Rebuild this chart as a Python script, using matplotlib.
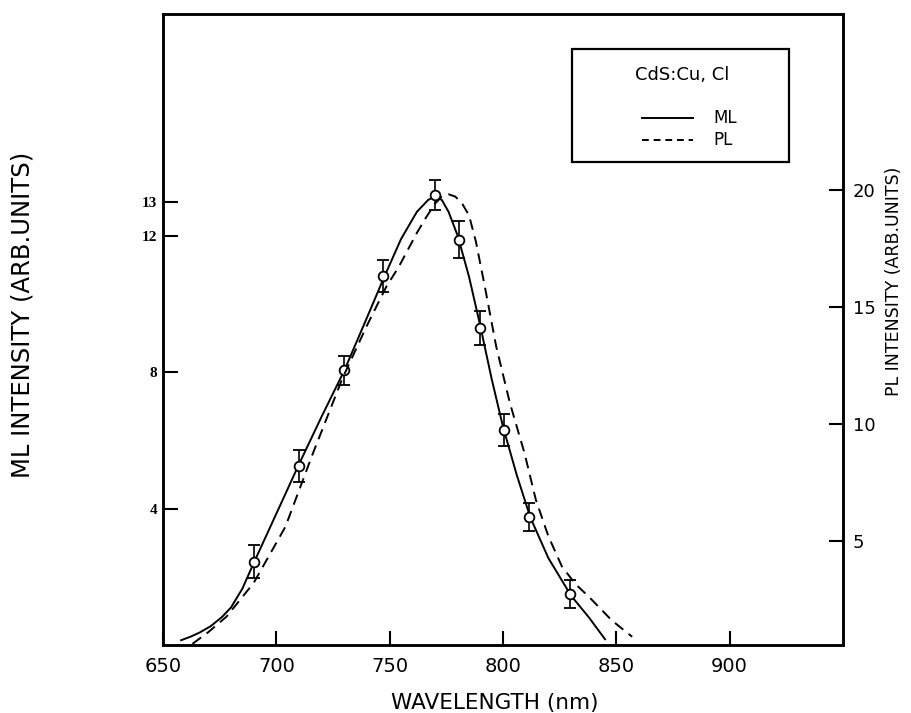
import matplotlib
matplotlib.use("Agg")
import matplotlib.pyplot as plt
from matplotlib.patches import Rectangle
from matplotlib.lines import Line2D

# ---------------- data ----------------
# ML measured points (left axis) with error bars
ml_pts_x = [690, 710, 730, 747, 770, 780.5, 790, 800.5, 811.5, 829.5]
ml_pts_y = [2.44, 5.26, 8.05, 10.82, 13.2, 11.88, 9.3, 6.29, 3.74, 1.5]
ml_pts_err = [0.48, 0.47, 0.42, 0.47, 0.44, 0.54, 0.5, 0.47, 0.41, 0.41]

# ML fitted curve (left axis, solid)
ml_curve_x = [658, 662, 666, 671, 676, 680, 685, 690, 700, 710, 720, 730, 740,
              747, 755, 762, 767, 770, 773, 776, 780, 785, 790, 795, 800, 806,
              812, 820, 830, 838, 845]
ml_curve_y = [0.14, 0.24, 0.36, 0.55, 0.82, 1.1, 1.65, 2.4, 3.85, 5.3, 6.7,
              8.05, 9.6, 10.7, 11.9, 12.7, 13.05, 13.15, 13.05, 12.7, 12.0,
              10.8, 9.35, 7.8, 6.4, 5.0, 3.75, 2.55, 1.45, 0.8, 0.17]

# PL curve (right axis, dashed)
pl_curve_x = [663, 670, 678, 690, 704, 716, 729, 740, 748.5, 754, 762, 766,
              770, 773, 776, 779, 782, 785, 788, 792, 797, 803, 809.5, 814.5,
              820, 826, 832, 838, 848, 857]
pl_curve_y = [0.6, 1.1, 1.76, 3.2, 5.6, 8.7, 11.9, 14.2, 15.85, 16.7, 18.15,
              18.8, 19.4, 19.7, 19.8, 19.7, 19.4, 18.9, 17.8, 15.85, 13.3, 10.9,
              8.74, 6.75, 5.2, 3.9, 3.15, 2.6, 1.6, 0.9]

x_ticks = [650, 700, 750, 800, 850, 900]
left_ticks = [4, 8, 12, 13]
right_ticks = [5, 10, 15, 20]

legend_title = "CdS:Cu, Cl"
series_names = ["ML", "PL"]

# ---------------- figure ----------------
W, H = 911, 713
fig = plt.figure(figsize=(W / 100, H / 100), dpi=100)
L, R, T, B = 163, 843, 14, 645
ax = fig.add_axes([L / W, 1 - B / H, (R - L) / W, (B - T) / H])
ax2 = ax.twinx()

lw_spine = 1.8
for a in (ax, ax2):
    for s in a.spines.values():
        s.set_linewidth(lw_spine)

ax.set_xlim(650, 950)
ax.set_ylim(0, 18.5)
ax2.set_ylim(0.55, 27.5)

# ML curve and points
ax.plot(ml_curve_x, ml_curve_y, color="black", lw=1.4, solid_joinstyle="round")
ax.errorbar(ml_pts_x, ml_pts_y, yerr=ml_pts_err, fmt="o", ms=7,
            mfc="white", mec="black", mew=1.3, ecolor="black",
            elinewidth=1.2, capsize=4, capthick=1.3, zorder=5)

# PL curve
ax2.plot(pl_curve_x, pl_curve_y, color="black", lw=1.4, ls=(0, (5.5, 3.5)))

# ticks
ax.set_xticks(x_ticks)
ax.set_xticklabels([str(v) for v in x_ticks])
ax.set_yticks(left_ticks)
ax.set_yticklabels([str(v) for v in left_ticks])
ax.tick_params(axis="x", direction="in", length=10, width=1.5, pad=9,
               labelsize=14, top=False)
ax.tick_params(axis="y", direction="in", length=11, width=1.5, pad=4,
               right=False)
for lab in ax.get_yticklabels():
    lab.set_fontfamily("Liberation Serif")
    lab.set_fontweight("bold")
    lab.set_fontsize(11)

ax2.set_yticks(right_ticks)
ax2.set_yticklabels([str(v) for v in right_ticks])
ax2.tick_params(axis="y", direction="in", length=10, width=1.5, pad=7,
                labelsize=13)

# axis labels
ax.set_xlabel("WAVELENGTH (nm)", fontsize=15.5, va="center")
ax.xaxis.set_label_coords(0.488, -0.092)
ax.set_ylabel("ML INTENSITY (ARB.UNITS)", fontsize=17.5, va="center")
ax.yaxis.set_label_coords(-0.206, 0.523)
ax2.set_ylabel("PL INTENSITY (ARB.UNITS)", fontsize=12.5, rotation=90,
               va="center")
ax2.yaxis.set_label_coords(1.075, 0.577)

# legend box (manual, axes coordinates)
tr = ax2.transAxes
ax2.add_patch(Rectangle((0.601, 0.766), 0.320, 0.1785, transform=tr,
                        fill=False, ec="black", lw=1.6, zorder=10))
ax2.text(0.763, 0.903, legend_title, transform=tr, ha="center", va="center",
         fontsize=13, zorder=11)
ax2.add_line(Line2D([0.704, 0.779], [0.835, 0.835], transform=tr,
                    color="black", lw=1.4, zorder=11))
ax2.add_line(Line2D([0.704, 0.779], [0.800, 0.800], transform=tr,
                    color="black", lw=1.4, ls=(0, (3.5, 2.5)), zorder=11))
ax2.text(0.809, 0.835, series_names[0], transform=tr, ha="left", va="center",
         fontsize=12, zorder=11)
ax2.text(0.809, 0.800, series_names[1], transform=tr, ha="left", va="center",
         fontsize=12, zorder=11)

fig.savefig("out.png", dpi=100)
